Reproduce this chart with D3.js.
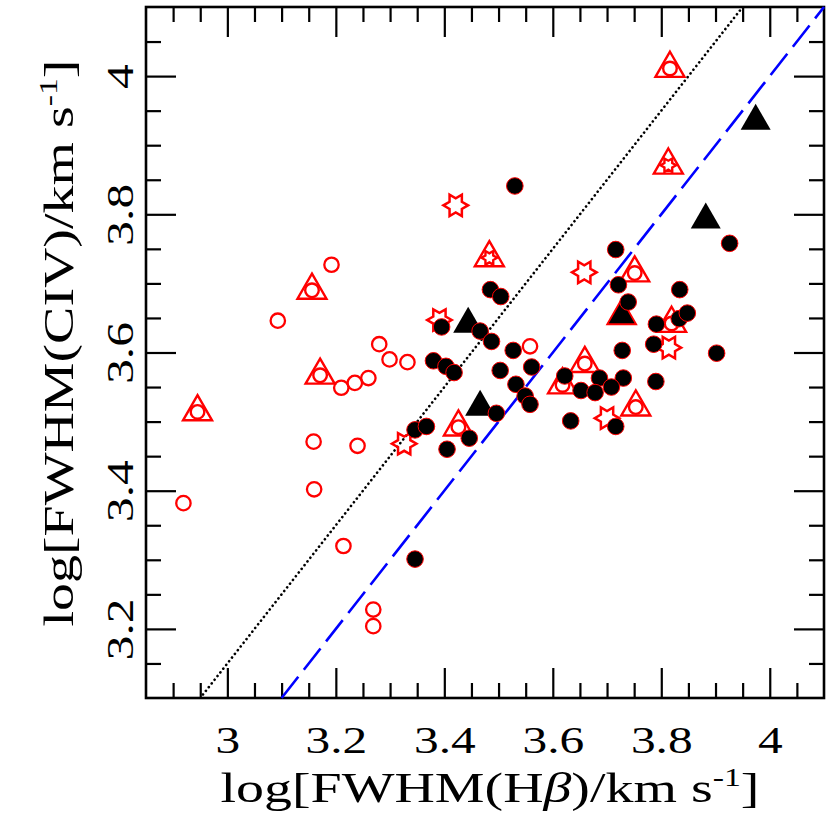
<!DOCTYPE html>
<html>
<head>
<meta charset="utf-8">
<script src="https://cdn.jsdelivr.net/npm/d3@7"></script>
<style>
  body { margin: 0; background: #fff; }
  svg { display: block; }
  text { font-family: "Liberation Serif", "Times New Roman", serif; fill: #000; }
</style>
</head>
<body>
<svg width="830" height="830"></svg>
<script>
// values: [log FWHM(Hb), log FWHM(CIV)]
const openCircles = [
  [3.192, 3.727], [3.093, 3.646], [3.280, 3.612], [3.299, 3.590],
  [3.332, 3.586], [3.210, 3.549], [3.235, 3.556], [3.260, 3.563],
  [3.159, 3.471], [3.240, 3.465], [2.919, 3.382], [3.160, 3.402],
  [3.214, 3.320], [3.269, 3.228], [3.269, 3.204], [3.558, 3.609],
];
const filledCircles = [
  [3.530, 3.841], [3.926, 3.758], [3.716, 3.749], [3.721, 3.698],
  [3.834, 3.691], [3.485, 3.691], [3.504, 3.681], [3.395, 3.637],
  [3.466, 3.631], [3.487, 3.616], [3.739, 3.673], [3.791, 3.641],
  [3.833, 3.649], [3.848, 3.657], [3.786, 3.612], [3.902, 3.599],
  [3.728, 3.603], [3.527, 3.603], [3.380, 3.588], [3.403, 3.580],
  [3.418, 3.571], [3.503, 3.574], [3.561, 3.579], [3.532, 3.554],
  [3.549, 3.537], [3.558, 3.525], [3.622, 3.566], [3.686, 3.563],
  [3.730, 3.563], [3.708, 3.550], [3.652, 3.545], [3.678, 3.542],
  [3.790, 3.558], [3.496, 3.512], [3.633, 3.501], [3.716, 3.493],
  [3.346, 3.488], [3.367, 3.493], [3.446, 3.476], [3.405, 3.460],
  [3.346, 3.301],
];
const triangleCircles = [
  [3.156, 3.690], [3.171, 3.567], [2.945, 3.514], [3.816, 4.011],
  [3.751, 3.715], [3.819, 3.642], [3.659, 3.584], [3.618, 3.553],
  [3.753, 3.521], [3.426, 3.492],
];
const triangleStars = [[3.483, 3.737], [3.813, 3.871]];
const stars = [
  [3.421, 3.813], [3.658, 3.716], [3.391, 3.647], [3.814, 3.607],
  [3.700, 3.505], [3.326, 3.468],
];
const filledTriangles = [
  [3.974, 3.935], [3.882, 3.792], [3.444, 3.641], [3.466, 3.521],
];
const outlinedTriangles = [[3.727, 3.653]];

// reference lines
const oneToOne = [[3.1, 3.1], [4.1, 4.1]];
const offsetLine = [[2.955, 3.105], [3.945, 4.095]];

const xMajor = [3, 3.2, 3.4, 3.6, 3.8, 4];
const yMajor = [3.2, 3.4, 3.6, 3.8, 4];

const red = '#ff0000';
const stretch = 1.3; // the original font is much wider than Times

const svg = d3.select('svg');
const margin = {top: 7, right: 6, bottom: 132, left: 146};
const width = 830;
const height = 830;

const x = d3.scaleLinear().domain([2.85, 4.1])
    .range([margin.left, width - margin.right]);
const y = d3.scaleLinear().domain([3.1, 4.1])
    .range([height - margin.bottom, margin.top]);

const xMinor = d3.range(2.9, 4.09, 0.05)
    .filter((v) => !xMajor.some((m) => Math.abs(m - v) < 1e-6));
const yMinor = d3.range(3.15, 4.09, 0.05)
    .filter((v) => !yMajor.some((m) => Math.abs(m - v) < 1e-6));

const x0 = x.range()[0];
const x1 = x.range()[1];
const y0 = y.range()[0];
const y1 = y.range()[1];

// ticks on all four sides, pointing in
function tickAxis(axis, tx, ty, values, size, labels) {
  const g = svg.append('g')
      .attr('transform', `translate(${tx},${ty})`)
      .call(axis.tickValues(values).tickSize(-size)
          .tickFormat(labels ? d3.format('') : ''));
  g.select('.domain').remove();
  g.selectAll('line').attr('stroke', '#000').attr('stroke-width', 2.2);
  return g;
}

tickAxis(d3.axisBottom(x), 0, y0, xMinor, 15, false);
tickAxis(d3.axisTop(x), 0, y1, xMinor, 15, false);
tickAxis(d3.axisLeft(y), x0, 0, yMinor, 15, false);
tickAxis(d3.axisRight(y), x1, 0, yMinor, 15, false);
tickAxis(d3.axisTop(x), 0, y1, xMajor, 30, false);
tickAxis(d3.axisRight(y), x1, 0, yMajor, 30, false);

const xAxis = tickAxis(d3.axisBottom(x).tickPadding(28), 0, y0, xMajor, 30, true);
xAxis.selectAll('text')
    .attr('font-family', null)
    .attr('font-size', 38)
    .attr('transform', `scale(${stretch},1)`);

const yAxis = tickAxis(d3.axisLeft(y), x0, 0, yMajor, 30, true);
yAxis.selectAll('text')
    .attr('font-family', null)
    .attr('font-size', 38)
    .attr('x', 0)
    .attr('dy', null)
    .attr('text-anchor', 'middle')
    .attr('transform', `translate(-13,0) rotate(-90) scale(${stretch},1)`);

// frame
svg.append('rect')
    .attr('x', x0).attr('y', y1)
    .attr('width', x1 - x0).attr('height', y0 - y1)
    .attr('fill', 'none').attr('stroke', '#000').attr('stroke-width', 2.6);

// axis titles
function axisTitle(transform, inner) {
  const t = svg.append('g').attr('transform', transform)
      .append('text')
      .attr('text-anchor', 'middle')
      .attr('font-size', 43);
  t.append('tspan').text('log[FWHM(');
  inner(t);
  t.append('tspan').text(')/km s');
  t.append('tspan').attr('font-size', 26).attr('dy', -16).text('-1');
  t.append('tspan').attr('dy', 16).text(']');
}

axisTitle(`translate(490,802) scale(${stretch},1)`, (t) => {
  t.append('tspan').text('H');
  t.append('tspan').attr('font-style', 'italic').text('β');
});
axisTitle(`translate(73,343) rotate(-90) scale(${stretch},1)`, (t) => {
  t.append('tspan').text('CIV');
});

// reference lines
const line = d3.line().x((d) => x(d[0])).y((d) => y(d[1]));

svg.append('path')
    .attr('d', line(offsetLine))
    .attr('fill', 'none')
    .attr('stroke', '#000')
    .attr('stroke-width', 2.6)
    .attr('stroke-linecap', 'round')
    .attr('stroke-dasharray', '0.1,4.6');

svg.append('path')
    .attr('d', line(oneToOne))
    .attr('fill', 'none')
    .attr('stroke', '#0000ff')
    .attr('stroke-width', 2.6)
    .attr('stroke-dasharray', '27,9');

// marker shapes
function trianglePath(side) {
  const r = side / Math.sqrt(3);
  const h = Math.sin(Math.PI / 3) * r;
  return `M0,${-r}L${h},${r / 2}L${-h},${r / 2}Z`;
}

function starPath(outer) {
  const inner = outer / Math.sqrt(3);
  const pts = d3.range(12).map((i) => {
    const a = i * Math.PI / 6;
    const r = i % 2 === 0 ? outer : inner;
    return [r * Math.cos(a), r * Math.sin(a)];
  });
  return 'M' + pts.join('L') + 'Z';
}

const pos = (d) => `translate(${x(d[0])},${y(d[1])})`;

// red open circles
svg.append('g').selectAll('circle')
    .data(openCircles)
    .join('circle')
    .attr('transform', pos)
    .attr('r', 7.2)
    .attr('fill', 'none')
    .attr('stroke', red)
    .attr('stroke-width', 2.3);

// red triangles with a circle inside
const tc = svg.append('g').selectAll('g')
    .data(triangleCircles)
    .join('g')
    .attr('transform', pos)
    .attr('fill', 'none')
    .attr('stroke', red)
    .attr('stroke-width', 2.4);
tc.append('path').attr('d', trianglePath(29));
tc.append('circle').attr('r', 6.8);

// red triangles with a star inside
const ts = svg.append('g').selectAll('g')
    .data(triangleStars)
    .join('g')
    .attr('transform', pos)
    .attr('fill', 'none')
    .attr('stroke', red)
    .attr('stroke-width', 2.4);
ts.append('path').attr('d', trianglePath(29));
ts.append('path').attr('d', starPath(7.8));

// red stars
svg.append('g').selectAll('path')
    .data(stars)
    .join('path')
    .attr('transform', pos)
    .attr('d', starPath(12.3))
    .attr('fill', 'none')
    .attr('stroke', red)
    .attr('stroke-width', 2.5);

// black triangles
svg.append('g').selectAll('path')
    .data(filledTriangles)
    .join('path')
    .attr('transform', pos)
    .attr('d', trianglePath(30))
    .attr('fill', '#000');

svg.append('g').selectAll('path')
    .data(outlinedTriangles)
    .join('path')
    .attr('transform', pos)
    .attr('d', trianglePath(29))
    .attr('fill', '#000')
    .attr('stroke', red)
    .attr('stroke-width', 1.8);

// black circles with a thin red rim
svg.append('g').selectAll('circle')
    .data(filledCircles)
    .join('circle')
    .attr('transform', pos)
    .attr('r', 8.3)
    .attr('fill', '#000')
    .attr('stroke', red)
    .attr('stroke-width', 1);
</script>
</body>
</html>
